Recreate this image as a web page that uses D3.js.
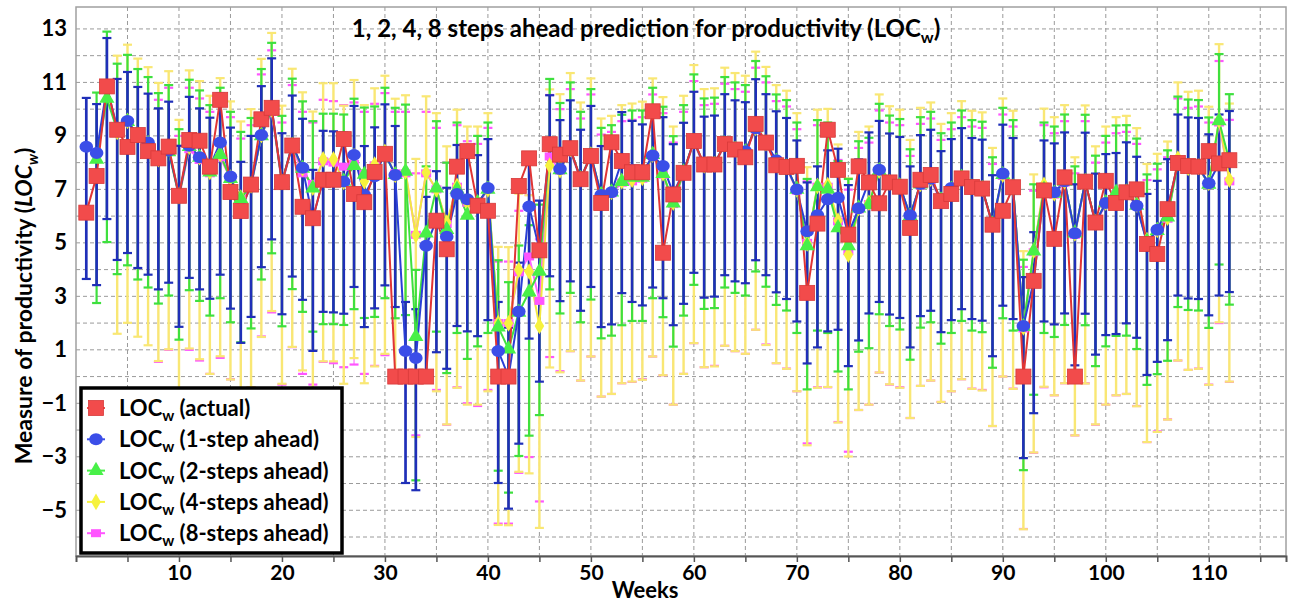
<!DOCTYPE html>
<html>
<head>
<meta charset="utf-8">
<script src="https://cdn.jsdelivr.net/npm/d3@7"></script>
<style>
  body { margin: 0; background: #fff; }
  text { font-family: Lato, "Open Sans", sans-serif; font-weight: bold; fill: #000; }
</style>
</head>
<body>
<div id="chart"></div>
<script>
// weeks 1..112, values
var actual = [6.13,7.5,10.85,9.23,8.59,9.03,8.43,8.16,8.6,6.76,
  8.85,8.82,7.85,10.35,6.9,6.19,7.18,9.62,10.05,7.27,
  8.64,6.35,5.92,7.36,7.36,8.88,6.83,6.52,7.65,8.33,
  0,0,0,0,5.83,4.76,7.85,8.43,6.39,6.2,
  0,0,7.13,8.16,4.72,8.69,8.3,8.54,7.38,8.25,
  6.49,8.76,8.06,7.64,7.64,9.92,4.63,6.81,7.62,8.81,
  7.93,7.93,8.7,8.49,8.2,9.45,8.75,7.9,7.84,7.88,
  3.13,5.72,9.23,7.73,5.31,7.86,7.26,6.48,7.26,7.1,
  5.56,7.36,7.54,6.56,6.83,7.41,7.09,7.03,5.68,6.2,
  7.08,0,3.58,6.96,5.15,7.45,0,7.29,5.76,7.32,
  6.49,6.89,7.0,4.96,4.58,6.26,7.99,7.87,7.85,8.43,
  7.97,8.09];

var step1 = [8.59,8.36,10.83,9.3,9.56,9.0,8.75,8.2,8.45,6.8,
  8.63,8.2,7.85,8.75,7.48,6.2,7.17,9.03,10.07,7.27,
  8.68,7.81,5.9,7.36,7.34,7.29,8.29,6.79,7.49,8.35,
  7.54,0.96,0.69,4.89,5.85,5.23,6.83,6.63,6.45,7.05,
  0.96,0.0,2.43,6.36,4.75,8.69,7.76,8.5,7.4,8.29,
  6.79,6.89,8.06,7.73,7.6,8.27,7.87,6.86,7.66,8.82,
  7.89,7.93,8.73,8.5,8.43,9.29,8.73,8.09,7.84,7.0,
  5.43,6.03,6.63,6.69,5.33,6.29,7.3,7.73,7.26,7.13,
  6.03,7.2,7.4,6.6,7.05,7.46,7.09,7.03,5.7,7.59,
  7.09,1.89,3.57,7.0,6.89,7.3,5.36,7.29,5.76,6.49,
  6.53,6.93,6.39,5.0,5.49,6.3,7.97,7.86,7.84,7.23,
  7.97,8.1];

var step2 = [null,8.12,10.4,9.2,9.53,9.0,8.7,8.1,8.4,6.75,
  8.6,8.2,7.65,8.3,7.4,6.65,7.17,9.0,9.98,7.25,
  8.64,7.79,7.05,7.33,7.33,7.3,7.89,7.56,7.6,8.3,
  7.55,7.67,1.49,5.36,7.05,5.5,7.0,6.03,6.5,7.0,
  1.85,1.03,2.4,3.16,3.93,8.63,7.73,8.5,7.4,8.25,
  6.8,6.9,7.29,7.45,7.45,8.3,7.59,6.49,7.65,8.8,
  7.9,7.93,8.7,8.5,8.4,9.3,8.73,8.05,7.84,7.0,
  4.89,7.09,7.0,5.56,4.89,6.3,6.43,7.7,7.26,7.13,
  6.0,7.2,7.4,6.6,7.0,7.45,7.09,7.03,5.7,7.55,
  7.09,1.87,4.69,7.0,6.85,7.3,5.36,7.29,5.76,6.5,
  6.89,6.9,6.4,5.06,5.46,5.96,7.97,7.86,7.84,7.19,
  9.56,8.06];

var step4 = [null,null,null,9.15,9.56,9.04,8.72,8.13,8.57,6.75,
  8.6,8.2,7.65,8.31,7.44,6.69,7.15,9.03,10.0,7.28,
  8.66,7.78,7.06,8.12,8.12,7.28,8.24,7.3,7.93,8.4,
  7.54,7.67,5.29,7.63,7.0,5.76,7.13,6.5,6.5,7.0,
  2.0,1.99,3.99,3.93,1.89,7.89,7.71,8.5,7.4,8.3,
  6.8,6.9,7.3,7.36,7.43,8.3,7.6,6.5,7.65,8.8,
  7.9,7.93,8.7,8.5,8.4,9.3,8.73,8.05,7.84,7.0,
  4.98,7.13,7.16,5.83,4.56,6.3,6.5,7.7,7.26,7.13,
  6.0,7.2,7.4,6.6,7.0,7.45,7.09,7.03,5.7,7.55,
  7.09,1.84,4.71,7.17,6.85,7.3,5.35,7.29,5.76,6.5,
  6.85,6.9,6.44,5.1,5.48,5.94,8.15,7.8,7.84,7.24,
  9.58,7.36];

var step8 = [null,null,null,null,null,null,null,8.05,8.5,6.7,
  8.5,8.1,7.6,8.2,7.4,6.6,7.1,9.0,9.9,7.2,
  8.6,7.6,7.2,8.05,8.0,7.85,7.95,7.6,7.9,8.3,
  7.6,7.6,5.3,7.6,7.0,5.7,7.1,6.5,6.4,7.0,
  2.0,2.0,3.9,4.49,2.83,8.23,7.7,8.45,7.35,8.25,
  6.75,6.85,7.25,7.3,7.4,8.25,7.55,6.45,7.6,8.75,
  7.85,7.9,8.65,8.45,8.35,9.25,8.7,8.0,7.8,6.95,
  5.0,7.1,7.1,5.8,4.69,6.25,6.45,7.65,7.2,7.1,
  5.95,7.15,7.35,6.55,6.95,7.4,7.05,7.0,5.65,7.5,
  7.05,1.8,4.65,7.1,6.8,7.25,5.3,7.25,5.7,6.45,
  6.8,6.85,6.4,5.05,5.45,5.9,8.1,7.75,7.8,7.2,
  9.5,7.3];

// error bar extents (below, above) of each prediction
var err1 = [-4.94, 1.83];
var err2 = [-5.37, 2.5];
var err4 = [-7.55, 2.85];
var err8 = [-7.5, 2.3];

var yTicks = [-5, -3, -1, 1, 3, 5, 7, 9, 11, 13];
var xTicks = [5,10,15,20,25,30,35,40,45,50,55,60,65,70,75,80,85,90,95,100,105,110,115];
var legendLabels = ["(actual)", "(1-step ahead)", "(2-steps ahead)", "(4-steps ahead)", "(8-steps ahead)"];

var width = 1291, height = 603;
var plotLeft = 76, plotRight = 1286, plotTop = 7, plotBottom = 556;

var svg = d3.select("#chart").append("svg")
    .attr("width", width)
    .attr("height", height);

var x = d3.scaleLinear().domain([0, 117.5]).range([plotLeft, plotRight]);
var y = d3.scaleLinear().domain([-6.71, 13.82]).range([plotBottom, plotTop]);

// dashed grid
svg.append("g").selectAll("line")
    .data(d3.range(-6, 14))
    .enter().append("line")
    .attr("x1", plotLeft).attr("x2", plotRight)
    .attr("y1", function(d) { return y(d); })
    .attr("y2", function(d) { return y(d); })
    .attr("stroke", "#9a9a9a").attr("stroke-width", 1)
    .attr("stroke-dasharray", "4,3");
svg.append("g").selectAll("line")
    .data(xTicks)
    .enter().append("line")
    .attr("x1", function(d) { return x(d); })
    .attr("x2", function(d) { return x(d); })
    .attr("y1", plotTop).attr("y2", plotBottom)
    .attr("stroke", "#9a9a9a").attr("stroke-width", 1)
    .attr("stroke-dasharray", "4,3");

// frame
svg.append("rect")
    .attr("x", plotLeft).attr("y", plotTop)
    .attr("width", plotRight - plotLeft).attr("height", plotBottom - plotTop)
    .attr("fill", "none").attr("stroke", "#a0a0a0").attr("stroke-width", 1.5);

var series = [
  { values: step8, err: err8, bar: "#ff55ff", line: "#ff66ff", fill: "#ff55ff", shape: "rect", bw: 1 },
  { values: step4, err: err4, bar: "#f9e774", line: "#f3e840", fill: "#f6f23e", shape: "diamond", bw: 2.4 },
  { values: step2, err: err2, bar: "#3ee03e", line: "#3ee03e", fill: "#48f048", shape: "triangle", bw: 2.2 },
  { values: step1, err: err1, bar: "#1f2fb8", line: "#2a3fd6", fill: "#3b4ee8", shape: "circle", bw: 2.7 }
];

function toPoints(vals) {
  return vals.map(function(v, i) { return { week: i + 1, v: v }; })
             .filter(function(d) { return d.v !== null; });
}

// error bars, back to front
series.forEach(function(s) {
  var g = svg.append("g").attr("stroke", s.bar);
  var pts = toPoints(s.values);
  g.selectAll(".bar").data(pts).enter().append("line")
      .attr("stroke-width", s.bw)
      .attr("x1", function(d) { return x(d.week); })
      .attr("x2", function(d) { return x(d.week); })
      .attr("y1", function(d) { return y(d.v + s.err[0]); })
      .attr("y2", function(d) { return y(d.v + s.err[1]); });
  [0, 1].forEach(function(k) {
    g.selectAll(".cap" + k).data(pts).enter().append("line")
        .attr("stroke-width", 2.2)
        .attr("x1", function(d) { return x(d.week) - 4.5; })
        .attr("x2", function(d) { return x(d.week) + 4.5; })
        .attr("y1", function(d) { return y(d.v + s.err[k]); })
        .attr("y2", function(d) { return y(d.v + s.err[k]); });
  });
});

var line = d3.line()
    .x(function(d) { return x(d.week); })
    .y(function(d) { return y(d.v); });

series.forEach(function(s) {
  svg.append("path")
      .attr("d", line(toPoints(s.values)))
      .attr("fill", "none").attr("stroke", s.line).attr("stroke-width", 2);
});
svg.append("path")
    .attr("d", line(toPoints(actual)))
    .attr("fill", "none").attr("stroke", "#e03535").attr("stroke-width", 2);

function drawMarker(g, shape, fill, cx, cy) {
  if (shape == "circle") {
    g.append("ellipse").attr("cx", cx).attr("cy", cy).attr("rx", 6.8).attr("ry", 6).attr("fill", fill);
  } else if (shape == "triangle") {
    g.append("path").attr("transform", "translate(" + cx + "," + cy + ")")
        .attr("d", d3.symbol().type(d3.symbolTriangle).size(100)()).attr("fill", fill);
  } else if (shape == "diamond") {
    g.append("path").attr("transform", "translate(" + cx + "," + cy + ")")
        .attr("d", d3.symbol().type(d3.symbolDiamond).size(80)()).attr("fill", fill);
  } else if (shape == "rect") {
    g.append("rect").attr("x", cx - 5).attr("y", cy - 4).attr("width", 10).attr("height", 8).attr("fill", fill);
  } else {
    g.append("rect").attr("x", cx - 7.5).attr("y", cy - 7.5).attr("width", 15).attr("height", 15)
        .attr("fill", fill).attr("stroke", "#d83a3a").attr("stroke-width", 0.8);
  }
}

// markers
series.forEach(function(s) {
  var g = svg.append("g");
  toPoints(s.values).forEach(function(d) { drawMarker(g, s.shape, s.fill, x(d.week), y(d.v)); });
});
var red = svg.append("g");
toPoints(actual).forEach(function(d) { drawMarker(red, "square", "#f24b4b", x(d.week), y(d.v)); });

// axes
var xAxis = svg.append("g")
    .attr("transform", "translate(0," + plotBottom + ")")
    .call(d3.axisBottom(x).tickValues(xTicks).tickSize(6).tickPadding(3)
      .tickFormat(function(d) { return d % 10 == 0 ? d : ""; }));
xAxis.select(".domain").attr("stroke", "#555").attr("stroke-width", 2);
xAxis.selectAll(".tick line").attr("stroke", "#555").attr("stroke-width", 1.5);
xAxis.selectAll("text").attr("font-size", 21).attr("fill", "#000")
    .attr("font-family", "Lato, 'Open Sans', sans-serif").attr("font-weight", "bold");

var yAxis = svg.append("g")
    .attr("transform", "translate(" + plotLeft + ",0)")
    .call(d3.axisLeft(y).tickValues(yTicks).tickSize(0).tickPadding(9));
yAxis.select(".domain").remove();
yAxis.selectAll("text").attr("font-size", 22).attr("fill", "#000")
    .attr("font-family", "Lato, 'Open Sans', sans-serif").attr("font-weight", "bold");

// title
var title = svg.append("text")
    .attr("x", 646).attr("y", 37)
    .attr("text-anchor", "middle")
    .attr("font-size", 24);
title.append("tspan").text("1, 2, 4, 8 steps ahead prediction for productivity (LOC");
title.append("tspan").attr("font-size", 16).attr("dy", 6).text("w");
title.append("tspan").attr("dy", -6).text(")");

// axis titles
svg.append("text")
    .attr("x", 645).attr("y", 598)
    .attr("text-anchor", "middle")
    .attr("font-size", 22)
    .text("Weeks");

var ylab = svg.append("text")
    .attr("transform", "translate(32,306) rotate(-90)")
    .attr("text-anchor", "middle")
    .attr("font-size", 23);
ylab.append("tspan").text("Measure of productivity (");
ylab.append("tspan").attr("font-style", "italic").text("LOC");
ylab.append("tspan").attr("font-style", "italic").attr("font-size", 15).attr("dy", 6).text("w");
ylab.append("tspan").attr("dy", -6).text(")");

// legend
var legend = svg.append("g");
legend.append("rect")
    .attr("x", 81).attr("y", 388)
    .attr("width", 261).attr("height", 165)
    .attr("fill", "#fff").attr("stroke", "#000").attr("stroke-width", 3.5);

var legendMarks = [
  { shape: "square", fill: "#f24b4b", line: "#f24b4b" },
  { shape: "circle", fill: "#3b4ee8", line: "#3b4ee8" },
  { shape: "triangle", fill: "#48f048", line: "#48f048" },
  { shape: "diamond", fill: "#f6f23e", line: "#f6f23e" },
  { shape: "rect", fill: "#ff55ff", line: "#ff55ff" }
];

legendLabels.forEach(function(lab, i) {
  var cy = 408 + i * 31.3;
  var m = legendMarks[i];
  legend.append("line")
      .attr("x1", 87).attr("x2", 105).attr("y1", cy).attr("y2", cy)
      .attr("stroke", m.line).attr("stroke-width", 2);
  drawMarker(legend, m.shape, m.fill, 96, cy);
  var t = legend.append("text")
      .attr("x", 119).attr("y", cy + 8)
      .attr("font-size", 22);
  t.append("tspan").text("LOC");
  t.append("tspan").attr("font-size", 15).attr("dy", 5).text("w");
  t.append("tspan").attr("dy", -5).text(" " + lab);
});
</script>
</body>
</html>
